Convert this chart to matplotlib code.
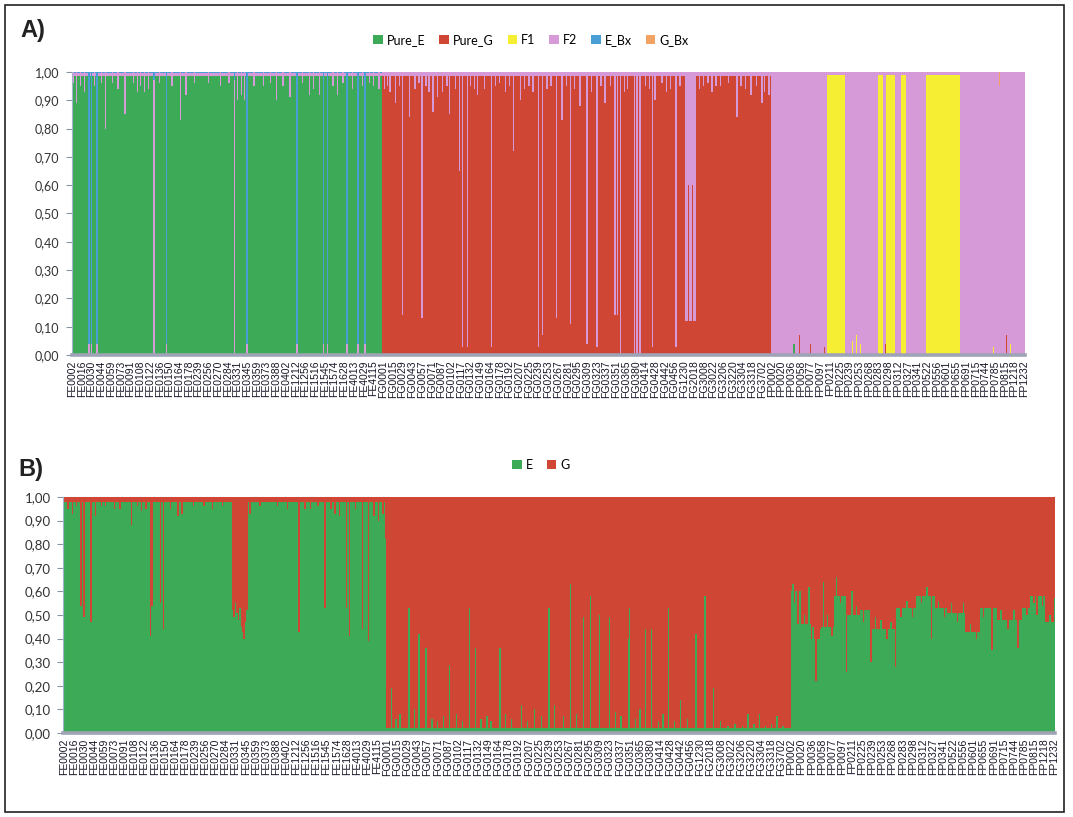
import numpy as np
import matplotlib.pyplot as plt
from matplotlib.patches import Rectangle

# sample ids written under the bars; every 7th sample carries a label
sample_labels = [
    "FE0002", "FE0016", "FE0030", "FE0044", "FE0059", "FE0073", "FE0091", "FE0108", "FE0122", "FE0136",
    "FE0150", "FE0164", "FE0178", "FE0239", "FE0256", "FE0270", "FE0284", "FE0331", "FE0345", "FE0359",
    "FE0373", "FE0388", "FE0402", "FE1212", "FE1256", "FE1516", "FE1545", "FE1574", "FE1628", "FE4013",
    "FE4029", "FE4115",
    "FG0001", "FG0015", "FG0029", "FG0043", "FG0057", "FG0071", "FG0087", "FG0102", "FG0117", "FG0132",
    "FG0149", "FG0164", "FG0178", "FG0192", "FG0207", "FG0225", "FG0239", "FG0253", "FG0267", "FG0281",
    "FG0295", "FG0309", "FG0323", "FG0337", "FG0351", "FG0365", "FG0380", "FG0414", "FG0428", "FG0442",
    "FG0456", "FG1230", "FG2018", "FG3008", "FG3022", "FG3206", "FG3220", "FG3304", "FG3318", "FG3702",
    "FP0002", "FP0020", "FP0036", "FP0058", "FP0077", "FP0097", "FP0211", "FP0225", "FP0239", "FP0253",
    "FP0268", "FP0283", "FP0298", "FP0312", "FP0327", "FP0341", "FP0522", "FP0556", "FP0601", "FP0655",
    "FP0691", "FP0715", "FP0744", "FP0785", "FP0815", "FP1218", "FP1232",
]
label_step = 7
n_fe, n_fg, n_fp = 224, 280, 183

# ---- A) assignment to six classes ----
classes_a = ["Pure_E", "Pure_G", "F1", "F2", "E_Bx", "G_Bx"]
colors_a = ["#3daa58", "#cf4634", "#f6ee33", "#d79ad8", "#4a9ed6", "#f2a262"]

# usual profile of each group (Pure_E, Pure_G, F1, F2, E_Bx, G_Bx)
base_fe_a = [0.985, 0.0, 0.0, 0.010, 0.005, 0.0]
base_fg_a = [0.0, 0.985, 0.0, 0.015, 0.0, 0.0]
base_fp_a = [0.0, 0.0, 0.0, 1.0, 0.0, 0.0]

# (sample, Pure_E) in FE, the rest is F2
fe_dips_a = [
    (1, .96), (3, .89), (6, .95), (9, .93), (16, .95), (21, .96), (24, .80), (29, .96),
    (33, .94), (38, .85), (44, .96), (47, .93), (49, .95), (52, .93), (55, .94), (63, .96),
    (72, .95), (78, .83), (82, .92), (88, .96), (98, .96), (107, .95), (113, .96),
    (119, .90), (122, .92), (124, .90), (131, .95), (138, .95), (143, .96), (147, .90),
    (152, .95), (157, .91), (166, .96), (171, .92), (174, .94), (178, .92), (188, .95),
    (191, .92), (195, .96), (202, .94), (209, .95), (214, .96), (217, .95), (221, .94),
]
fe_f2_lines_a = [59, 117]
fe_ebx_lines_a = [12, 14, 18, 68, 126, 162, 181, 184, 198, 206, 211]

# (sample, Pure_G) in FG, the rest is F2
fg_dips_a = [
    (225, .94), (227, .95), (229, .93), (233, .89), (236, .95), (238, .14), (243, .84),
    (247, .94), (250, .96), (252, .13), (255, .95), (257, .93), (260, .86), (263, .91),
    (267, .93), (270, .95), (272, .85), (276, .94), (279, .65), (281, .03), (285, .03),
    (287, .95), (290, .94), (292, .92), (297, .94), (302, .03), (305, .95), (308, .96),
    (312, .93), (315, .95), (318, .72), (323, .90), (326, .94), (329, .95), (332, .93),
    (336, .03), (339, .07), (342, .94), (345, .95), (349, .13), (353, .83), (356, .95),
    (359, .11), (362, .94), (366, .88), (371, .04), (374, .93), (378, .03), (381, .95),
    (384, .89), (388, .95), (391, .14), (393, .14), (395, .0), (398, .93), (400, .94),
    (405, .0), (407, .0), (409, .0), (413, .95), (416, .94), (418, .03), (420, .90),
    (425, .96), (428, .93), (431, .94), (435, .03), (438, .95), (442, .12), (443, .12),
    (444, .60), (445, .12), (446, .12), (447, .60), (448, .12), (449, .12), (452, .94),
    (455, .95), (458, .96), (461, .93), (464, .95), (467, .95), (473, .96), (479, .84),
    (482, .95), (485, .94), (489, .92), (493, .95), (497, .89), (499, .93), (502, .92),
]

# runs of F1 samples inside FP (start, stop)
fp_f1_blocks_a = [(544, 557), (581, 585), (587, 593), (598, 601), (616, 640)]
# small shares of other classes at the foot of FP bars
fp_bits_a = [
    (520, "Pure_E", .04), (524, "Pure_G", .07), (532, "Pure_G", .04), (542, "Pure_G", .03),
    (562, "F1", .05), (565, "F1", .07), (568, "F1", .04), (586, "Pure_G", .04),
    (664, "F1", .03), (668, "G_Bx", .05), (673, "Pure_G", .07), (676, "F1", .04),
]

# ---- B) share of E (G is the rest) ----
colors_b = ["#3daa58", "#cf4634"]
base_fe_b = 0.98
base_fg_b = 0.02

fe_dips_b = [
    (3, .95), (6, .93), (9, .96), (12, .54), (14, .49), (19, .47), (22, .92), (26, .96),
    (29, .96), (35, .95), (39, .95), (47, .88), (51, .96), (54, .94), (57, .95), (60, .41),
    (61, .54), (67, .55), (69, .44), (74, .95), (79, .92), (82, .93), (90, .96), (97, .96),
    (103, .95), (110, .96), (117, .52), (118, .49), (119, .55), (120, .51), (121, .48),
    (122, .53), (123, .45), (124, .43), (125, .40), (126, .47), (127, .52), (129, .93),
    (136, .96), (148, .96), (155, .95), (163, .43), (167, .95), (171, .95), (176, .96),
    (181, .53), (185, .95), (188, .93), (191, .92), (196, .53), (198, .41), (202, .95),
    (207, .44), (211, .39), (215, .92), (218, .90), (221, .93), (223, .82),
]
fg_spikes_b = [
    (227, .19), (230, .06), (233, .08), (239, .53), (243, .10), (246, .42), (251, .36),
    (255, .06), (259, .05), (263, .07), (267, .29), (272, .08), (276, .05), (281, .53),
    (285, .36), (289, .06), (293, .07), (296, .05), (302, .36), (306, .08), (310, .06),
    (317, .12), (321, .05), (326, .10), (331, .07), (336, .53), (340, .12), (346, .07),
    (351, .63), (355, .08), (360, .49), (365, .58), (371, .50), (378, .49), (382, .09),
    (386, .07), (391, .40), (392, .53), (396, .06), (399, .10), (403, .44), (407, .44),
    (412, .05), (415, .08), (419, .53), (423, .05), (427, .14), (432, .06), (438, .42),
    (444, .58), (450, .19), (455, .05), (460, .03), (465, .04), (470, .03), (474, .08),
    (478, .04), (482, .08), (486, .03), (490, .04), (494, .07), (498, .03),
]
# runs of (number of samples, E) across FP
fp_levels_b = [
    (4, .60), (10, .46), (6, .40), (10, .45), (9, .58), (9, .50), (8, .52), (16, .44),
    (15, .53), (13, .58), (8, .53), (13, .51), (10, .43), (12, .53), (17, .48), (6, .53),
    (10, .58), (7, .47),
]
# (offset inside FP, E)
fp_spikes_b = [
    (1, .63), (2, .55), (6, .60), (9, .50), (12, .62), (15, .45), (17, .22), (20, .44),
    (22, .64), (25, .50), (28, .41), (31, .66), (34, .55), (38, .26), (42, .60), (45, .54),
    (50, .47), (55, .30), (58, .49), (62, .48), (66, .40), (69, .47), (72, .28), (76, .49),
    (80, .56), (84, .49), (90, .55), (94, .62), (97, .40), (102, .56), (106, .49),
    (111, .55), (115, .47), (119, .55), (124, .46), (128, .40), (133, .49), (139, .35),
    (145, .52), (150, .44), (154, .52), (157, .36), (163, .50), (168, .55), (170, .50),
    (174, .54), (179, .50), (182, .57),
]


def build_a():
    n = n_fe + n_fg + n_fp
    fe = slice(0, n_fe)
    fg = slice(n_fe, n_fe + n_fg)
    fp = slice(n_fe + n_fg, n)
    E, G, F1, F2, EBX, GBX = range(6)

    share = np.zeros((6, n))
    share[:, fe] = np.array(base_fe_a)[:, None]
    share[:, fg] = np.array(base_fg_a)[:, None]
    share[:, fp] = np.array(base_fp_a)[:, None]

    for s, v in fe_dips_a:
        share[:, s] = 0
        share[E, s] = v
        share[F2, s] = 1 - v
    for s in fe_f2_lines_a:
        share[:, s] = 0
        share[F2, s] = 0.97
        share[EBX, s] = 0.03
    for s in fe_ebx_lines_a:
        share[:, s] = 0
        share[EBX, s] = 0.96
        share[F2, s] = 0.04
    for s, v in fg_dips_a:
        share[:, s] = 0
        share[G, s] = v
        share[F2, s] = 1 - v
    for start, stop in fp_f1_blocks_a:
        share[:, start:stop] = 0
        share[F1, start:stop] = 0.99
        share[F2, start:stop] = 0.01
    for s, name, v in fp_bits_a:
        share[classes_a.index(name), s] += v
        share[F2, s] -= v
    return share


def build_b():
    n = n_fe + n_fg + n_fp
    e = np.empty(n)
    e[:n_fe] = base_fe_b
    e[n_fe:n_fe + n_fg] = base_fg_b
    e[n_fe + n_fg:] = np.repeat([v for _, v in fp_levels_b], [c for c, _ in fp_levels_b])
    for s, v in fe_dips_b + fg_spikes_b:
        e[s] = v
    for off, v in fp_spikes_b:
        e[n_fe + n_fg + off] = v
    return np.vstack([e, 1 - e])


def draw_stack(ax, shares, names, colors):
    x = np.arange(shares.shape[1])
    bottom = np.zeros(shares.shape[1])
    handles = []
    for row, name, color in zip(shares, names, colors):
        h = ax.bar(x, row, bottom=bottom, width=1.0, color=color,
                   linewidth=0, antialiased=False, label=name)
        handles.append(h)
        bottom += row
    return handles


def style_axis(ax, ysize):
    n = n_fe + n_fg + n_fp
    ax.set_xlim(-0.5, n - 0.5)
    ax.set_ylim(0, 1)
    yt = np.round(np.arange(0, 1.01, 0.1), 2)
    ax.set_yticks(yt)
    ax.set_yticklabels([f"{v:.2f}".replace(".", ",") for v in yt],
                       fontsize=ysize, family="Lato", color="#333333")
    ax.set_xticks(np.arange(0, n, label_step))
    ax.set_xticklabels(sample_labels, rotation=90, fontsize=7.5,
                       family="Liberation Sans", color="#161626")
    ax.tick_params(axis="x", length=0, pad=4)
    ax.tick_params(axis="y", length=4, width=0.8, color="#8a94a6", pad=5)
    ax.spines["top"].set_visible(False)
    ax.spines["right"].set_visible(False)
    ax.spines["left"].set_color("#9fb3cf")
    ax.spines["left"].set_linewidth(0.8)
    ax.spines["bottom"].set_color("#9ea3b5")
    ax.spines["bottom"].set_linewidth(2.6)


W, H = 1073, 817
fig = plt.figure(figsize=(W / 100, H / 100), dpi=100)

ax_a = fig.add_axes([71.5 / W, 1 - 355 / H, (1025 - 71.5) / W, (355 - 72) / H])
hand_a = draw_stack(ax_a, build_a(), classes_a, colors_a)
style_axis(ax_a, 9)

ax_b = fig.add_axes([63 / W, 1 - 733 / H, (1055 - 63) / W, (733 - 497) / H])
hand_b = draw_stack(ax_b, build_b(), ["E", "G"], colors_b)
style_axis(ax_b, 9.5)

legend_style = dict(loc="center", frameon=False, handlelength=0.75, handleheight=0.75,
                    handletextpad=0.35, columnspacing=1.1,
                    prop={"family": "Lato", "size": 9})
fig.legend(hand_a, classes_a, bbox_to_anchor=(531 / W, 1 - 40 / H), ncol=6, **legend_style)
fig.legend(hand_b, ["E", "G"], bbox_to_anchor=(541 / W, 1 - 465 / H), ncol=2, **legend_style)

fig.text(20 / W, 1 - 31 / H, "A)", fontsize=17, fontweight="bold",
         family="Liberation Sans", color="#222222", va="center")
fig.text(18 / W, 1 - 470 / H, "B)", fontsize=17, fontweight="bold",
         family="Liberation Sans", color="#222222", va="center")

fig.add_artist(Rectangle((5 / W, 5 / H), (1064 - 5) / W, (812 - 5) / H,
                         transform=fig.transFigure, fill=False, lw=1.2, ec="#222222"))

fig.savefig("out.png", dpi=100)
